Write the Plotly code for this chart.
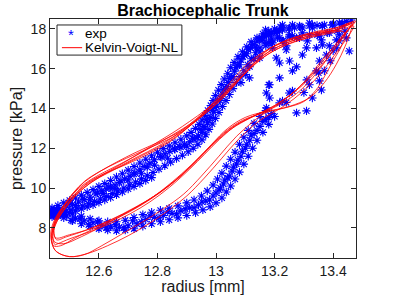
import plotly.graph_objects as go

# ---------------- experimental data (radius [mm], pressure [kPa]) ----------------
# rising band (overlapping rows + outer points)
exp_up_r1 = [12.433,12.45,12.467,12.49,12.51,12.53,12.55,12.57,12.59,12.61,12.625,12.64,12.655,12.67,12.688,
             12.706,12.723,12.74,12.757,12.774,12.79,12.81,12.826,12.842,12.858,12.875,12.892,12.91,12.925,12.94,
             12.952,12.962,12.971,12.982,12.992,13.002,13.012,13.022,13.033,13.043,13.053,13.063,13.074,13.085,13.097,
             13.11,13.125,13.14,13.155,13.172,13.189,13.208,13.227,13.248,13.268,13.29,13.319,13.345,13.37,13.40,
             13.421,13.445,13.462]
exp_up_p1 = [8.78,8.86,8.95,9.06,9.18,9.3,9.42,9.55,9.7,9.85,9.95,10.05,10.15,10.28,10.45,
             10.6,10.76,10.92,11.08,11.25,11.42,11.58,11.72,11.85,11.96,12.08,12.2,12.32,12.46,12.62,
             12.8,13.02,13.28,13.55,13.82,14.12,14.42,14.72,15.02,15.3,15.58,15.88,16.18,16.45,16.7,
             16.95,17.2,17.38,17.55,17.68,17.8,17.88,17.95,18.0,18.05,18.1,18.15,18.18,18.2,18.25,
             18.3,18.38,18.45]
exp_up_r2 = [12.44,12.46,12.48,12.50,12.52,12.54,12.56,12.58,12.60,12.62,12.64,12.66,12.68,12.70,12.72,12.74,
             12.76,12.78,12.80,12.82,12.84,12.86,12.88,12.90,12.915,12.93,12.942,12.952,12.962,12.972,12.982,
             12.99,12.998,13.008,13.018,13.028,13.040,13.050,13.062,13.075,13.09,13.105,13.12,13.14,13.16,
             13.18,13.20,13.22]
exp_up_p2 = [9.0,9.12,9.25,9.38,9.5,9.64,9.78,9.92,10.08,10.22,10.38,10.55,10.72,10.9,11.08,11.26,
             11.45,11.62,11.8,11.98,12.12,12.28,12.45,12.62,12.8,13.0,13.2,13.42,13.65,13.9,14.15,
             14.4,14.65,14.92,15.2,15.48,15.75,16.05,16.32,16.6,16.85,17.1,17.35,17.55,17.75,
             17.9,18.0,18.1]
exp_up_r3 = [12.445,12.465,12.485,12.505,12.525,12.545,12.565,12.585,12.605,12.625,12.645,12.665,12.685,12.705,
             12.725,12.745,12.765,12.785,12.805,12.825,12.845,12.865,12.885,12.905,12.922,12.938,12.952,12.965,
             12.976,12.987,12.998,13.01,13.022,13.034,13.046,13.058,13.07,13.082,13.095,13.108,13.12,13.135,
             13.15,13.17,13.19]
exp_up_p3 = [8.62,8.7,8.8,8.9,9.0,9.1,9.2,9.32,9.45,9.58,9.72,9.86,10.0,10.15,
             10.3,10.46,10.62,10.78,10.95,11.12,11.3,11.48,11.65,11.82,12.0,12.2,12.42,12.68,
             12.95,13.22,13.5,13.8,14.1,14.4,14.7,15.0,15.3,15.6,15.9,16.2,16.5,16.8,
             17.05,17.3,17.5]
exp_up_r4 = [13.085,13.10,13.115,13.13,13.15,13.17,13.19,13.21,13.23,13.25,12.436,12.438,12.445]
exp_up_p4 = [15.3,15.7,16.1,16.5,16.85,17.15,17.35,17.55,17.4,17.6,8.65,8.9,8.8]
exp_up_r5 = [12.455,12.475,12.50,12.52,12.545,12.57,12.595,12.615,12.635,12.655,12.675,12.70,12.72,12.745,12.765,
             12.79,12.815,12.835,12.86,12.88,12.90,12.92,12.935,12.948,12.958,12.968,12.978,12.988,12.997,13.006,
             13.016,13.026,13.037,13.048,13.058,13.068,13.08,13.092,13.105,13.118,13.13,13.148,13.165,13.185,13.205]
exp_up_p5 = [8.95,8.88,9.2,9.12,9.45,9.4,9.75,9.72,10.05,9.98,10.35,10.4,10.7,10.72,11.05,
             11.15,11.55,11.5,11.95,12.05,12.1,12.5,12.55,12.95,13.1,13.45,13.5,13.9,14.05,14.4,
             14.5,14.95,15.1,15.5,15.6,16.05,16.2,16.6,16.75,17.05,17.2,17.5,17.6,17.75,17.8]
exp_up_r6 = [12.44,12.46,12.48,12.50,12.52,12.54,12.56,12.58,12.60,12.62,12.64,12.66,12.68,12.70,12.72,
             12.74,12.76,12.78]
exp_up_p6 = [8.55,8.6,8.68,8.76,8.85,8.95,9.05,9.15,9.28,9.4,9.52,9.66,9.8,9.95,10.08,
             10.22,10.38,10.52]

# scattered points of the unloading part (top right)
exp_sc_r = [13.206,13.227,13.261,13.295,13.329,13.363,13.397,13.431,13.217,13.251,13.285,13.319,13.353,13.387,
            13.421,13.193,13.240,13.309,13.363,13.411,13.251,13.295,13.353,13.377,13.261,13.217,13.319,13.353,
            13.261,13.227,13.329,13.309,13.343,13.445,13.455,13.172,13.217,13.275,13.25,13.31,13.36,13.35,
            13.275,13.217,13.18,13.183,13.183,13.172,13.114,13.44,13.42,13.40,13.39,13.37,13.30,13.24]
exp_sc_p = [17.90,18.05,18.20,18.05,18.20,18.15,18.20,18.30,17.55,17.70,17.55,17.70,17.65,17.80,
            17.70,17.30,17.15,17.05,17.20,17.05,16.39,16.69,16.39,16.69,15.89,15.54,15.19,15.39,
            14.88,14.38,14.53,13.88,15.89,17.55,16.89,14.78,14.28,13.78,14.78,15.44,14.93,15.79,
            16.09,16.29,15.19,15.19,14.53,14.03,15.54,17.9,17.4,16.9,16.4,15.9,14.8,14.3]
exp_sc2_r = [13.157,13.18,13.217,13.227,13.251,13.261,13.285,13.295,13.312,13.329,13.346,13.363,13.38,13.397,
             13.414,13.431,13.138,13.193,13.24,13.343,13.387,13.149,13.206,13.275,13.18,13.319,13.36,13.411,
             13.227,13.169]
exp_sc2_p = [17.40,17.70,17.90,17.40,18.05,17.65,18.15,17.80,17.40,18.05,17.70,18.15,17.80,18.20,
             17.90,18.20,17.05,17.05,16.95,17.05,17.15,16.54,16.54,17.55,17.30,18.30,17.45,17.45,
             18.20,17.95]

# falling band (rows)
exp_dn_r1 = [13.19,13.17,13.15,13.13,13.115,13.10,13.085,13.07,13.055,13.04,13.025,13.01,12.99,12.965,12.94,
             12.91,12.88,12.85,12.82,12.79,12.76,12.73,12.70,12.67,12.64,12.61,12.58,12.55,12.52,12.49,12.46,12.44]
exp_dn_p1 = [13.75,13.45,13.1,12.75,12.4,12.0,11.6,11.2,10.85,10.5,10.2,9.9,9.6,9.35,9.15,
             9.0,8.85,8.72,8.62,8.52,8.42,8.2,8.1,8.03,8.05,8.12,8.25,8.35,8.48,8.6,8.68,8.72]
exp_dn_r2 = [13.17,13.15,13.13,13.11,13.095,13.08,13.065,13.05,13.035,13.02,13.005,12.99,12.97,12.95,12.925,
             12.90,12.87,12.84,12.81,12.78,12.75,12.72,12.69,12.66,12.63,12.60,12.57,12.54,12.51,12.48,12.455]
exp_dn_p2 = [13.9,13.6,13.25,12.9,12.55,12.2,11.8,11.45,11.1,10.75,10.45,10.15,9.85,9.6,9.4,
             9.25,9.1,8.98,8.88,8.78,8.66,8.52,8.38,8.3,8.3,8.35,8.45,8.58,8.7,8.8,8.85]
exp_dn_r3 = [13.20,13.18,13.16,13.14,13.125,13.11,13.095,13.08,13.065,13.05,13.035,13.02,13.0,12.98,12.955,
             12.93,12.90,12.87,12.84,12.81,12.78,12.75,12.72,12.69,12.66,12.63,12.60,12.57,12.54,12.51,12.48,12.455]
exp_dn_p3 = [13.6,13.2,12.8,12.4,12.0,11.6,11.2,10.8,10.45,10.1,9.8,9.5,9.25,9.05,8.9,
             8.75,8.62,8.5,8.4,8.3,8.2,8.08,7.95,7.88,7.85,7.88,7.95,8.08,8.2,8.35,8.5,8.6]
exp_dn_r4 = [13.18,13.16,13.14,13.12,13.105,13.09,13.075,13.06,13.045,13.03,13.015,13.0,12.978,12.952,12.925,
             12.895,12.865,12.835,12.805,12.775,12.745,12.715,12.685,12.655,12.625,12.595,12.565,12.535,12.505,12.475,12.45]
exp_dn_p4 = [13.55,13.35,12.9,12.65,12.2,11.85,11.4,11.05,10.6,10.4,10.0,9.75,9.4,9.3,9.0,
             8.95,8.7,8.8,8.5,8.6,8.3,8.35,8.0,8.15,8.0,8.3,8.15,8.45,8.38,8.7,8.62]

# ---------------- Kelvin-Voigt-NL model loops ----------------
model_r_loops = [
    [12.450,12.443,12.458,12.485,12.515,12.555,12.610,12.670,12.729,12.791,12.849,12.910,12.971,13.029,13.080,13.131,13.183,13.251,13.336,13.421,13.476,
     13.455,13.414,13.360,13.302,13.234,13.149,13.074,13.012,12.961,12.910,12.842,12.774,12.706,12.637,12.569,12.501,12.460,12.450],
    [12.445,12.438,12.452,12.480,12.510,12.550,12.600,12.660,12.720,12.780,12.840,12.900,12.960,13.020,13.070,13.125,13.180,13.250,13.330,13.410,13.460,
     13.440,13.400,13.350,13.290,13.220,13.140,13.070,13.010,12.950,12.890,12.820,12.750,12.680,12.610,12.550,12.500,12.460,12.445],
    [12.455,12.447,12.465,12.495,12.530,12.575,12.630,12.690,12.750,12.810,12.865,12.920,12.975,13.030,13.085,13.140,13.200,13.270,13.340,13.400,13.440,
     13.430,13.400,13.370,13.340,13.300,13.240,13.170,13.100,13.040,12.985,12.930,12.870,12.800,12.720,12.640,12.560,12.490,12.455],
    [12.448,12.440,12.455,12.482,12.518,12.560,12.615,12.680,12.740,12.800,12.855,12.905,12.955,13.005,13.060,13.115,13.175,13.245,13.320,13.400,13.465,
     13.460,13.440,13.410,13.370,13.320,13.250,13.170,13.090,13.025,12.970,12.915,12.850,12.780,12.700,12.620,12.540,12.480,12.448],
    [12.440,12.436,12.450,12.478,12.512,12.552,12.605,12.665,12.725,12.785,12.845,12.900,12.955,13.010,13.065,13.120,13.180,13.250,13.330,13.410,13.470,
     13.450,13.410,13.360,13.300,13.230,13.150,13.080,13.020,12.960,12.900,12.840,12.770,12.700,12.630,12.560,12.500,12.455,12.440],
    [12.452,12.446,12.462,12.490,12.525,12.570,12.625,12.685,12.745,12.805,12.860,12.910,12.962,13.015,13.070,13.125,13.185,13.255,13.335,13.415,13.472,
     13.458,13.425,13.385,13.335,13.275,13.200,13.120,13.050,12.990,12.935,12.875,12.805,12.730,12.650,12.570,12.500,12.452],
    [12.445,12.440,12.456,12.486,12.522,12.566,12.620,12.678,12.736,12.796,12.852,12.905,12.958,13.012,13.066,13.122,13.180,13.250,13.330,13.405,13.462,
     13.445,13.415,13.375,13.330,13.275,13.205,13.125,13.055,12.995,12.940,12.880,12.812,12.740,12.665,12.590,12.520,12.470,12.445],
]
model_p_loops = [
    [7.15,7.70,8.35,9.00,9.60,10.15,10.65,11.15,11.65,12.15,12.65,13.20,13.85,14.60,15.45,16.30,17.00,17.50,17.85,18.10,18.40,
     18.00,17.30,16.40,15.35,14.45,13.75,13.20,12.45,11.70,10.95,10.05,9.30,8.70,8.20,7.80,7.45,7.20,7.15],
    [7.00,7.60,8.30,9.05,9.70,10.30,10.80,11.30,11.75,12.15,12.55,13.05,13.70,14.50,15.30,16.15,16.85,17.35,17.70,17.95,18.20,
     17.70,16.90,16.00,15.10,14.30,13.50,12.60,11.60,10.60,9.70,8.95,8.30,7.70,7.10,6.65,6.55,6.75,7.00],
    [7.40,7.95,8.55,9.15,9.75,10.30,10.75,11.20,11.65,12.10,12.60,13.25,14.00,14.85,15.75,16.55,17.15,17.55,17.80,17.90,17.80,
     17.20,16.40,15.60,14.90,14.35,14.05,13.85,13.55,13.00,12.20,11.35,10.50,9.70,9.00,8.40,7.90,7.55,7.40],
    [7.30,7.85,8.50,9.10,9.70,10.25,10.70,11.10,11.50,11.95,12.45,13.05,13.75,14.55,15.50,16.35,16.95,17.40,17.75,18.00,18.30,
     17.90,17.10,16.20,15.30,14.55,14.10,13.80,13.40,12.75,11.95,11.15,10.30,9.50,8.80,8.15,7.55,7.20,7.30],
    [7.20,7.80,8.45,9.10,9.75,10.35,10.85,11.30,11.70,12.10,12.50,13.00,13.65,14.40,15.25,16.05,16.75,17.25,17.60,17.85,18.15,
     17.60,16.80,15.80,14.90,14.10,13.40,12.50,11.50,10.50,9.60,8.90,8.20,7.60,7.10,6.70,6.55,6.80,7.20],
    [7.50,8.10,8.70,9.30,9.90,10.40,10.85,11.30,11.80,12.35,12.85,13.35,13.90,14.55,15.35,16.15,16.80,17.30,17.65,17.95,18.35,
     18.10,17.55,16.75,15.85,14.95,14.15,13.55,12.95,12.20,11.40,10.55,9.75,9.05,8.45,7.95,7.65,7.50],
    [7.10,7.70,8.40,9.05,9.65,10.20,10.70,11.15,11.60,12.05,12.55,13.15,13.80,14.50,15.35,16.20,16.85,17.35,17.70,17.95,18.25,
     17.85,17.20,16.40,15.55,14.75,14.10,13.60,13.05,12.30,11.45,10.60,9.80,9.10,8.50,8.00,7.50,7.10,7.10],
]

# ---------------- axes / legend text ----------------
x_ticks = [12.6, 12.8, 13.0, 13.2, 13.4]
x_tick_labels = ["12.6", "12.8", "13", "13.2", "13.4"]
y_ticks = [8, 10, 12, 14, 16, 18]
y_tick_labels = ["8", "10", "12", "14", "16", "18"]
legend_labels = ["exp", "Kelvin-Voigt-NL"]

exp_r = (exp_up_r1 + exp_up_r2 + exp_up_r3 + exp_up_r4 + exp_up_r5 + exp_up_r6 + exp_sc_r + exp_sc2_r
         + exp_dn_r1 + exp_dn_r2 + exp_dn_r3 + exp_dn_r4)
exp_p = (exp_up_p1 + exp_up_p2 + exp_up_p3 + exp_up_p4 + exp_up_p5 + exp_up_p6 + exp_sc_p + exp_sc2_p
         + exp_dn_p1 + exp_dn_p2 + exp_dn_p3 + exp_dn_p4)

FONT = "Liberation Sans, Arial, Helvetica, sans-serif"
TXT = "#1a1a1a"
BLUE = "#0000ff"
RED = "#ff0000"

fig = go.Figure()
fig.add_trace(go.Scatter(
    x=exp_r, y=exp_p, mode="markers", name=legend_labels[0], showlegend=False,
    marker=dict(symbol="asterisk-open", size=7, color=BLUE, line=dict(width=1.1, color=BLUE)),
))
for i, (rr, pp) in enumerate(zip(model_r_loops, model_p_loops)):
    fig.add_trace(go.Scatter(
        x=rr, y=pp, mode="lines", name=legend_labels[1], showlegend=False,
        line=dict(color=RED, width=0.8, shape="spline", smoothing=1.0),
    ))

axis_common = dict(
    showline=True, linecolor="#262626", linewidth=1, mirror="ticks",
    ticks="inside", ticklen=5, tickcolor="#262626", showgrid=False, zeroline=False,
    automargin=False,
    tickfont=dict(family=FONT, size=14, color=TXT),
)
fig.update_xaxes(range=[12.433, 13.478], tickvals=x_ticks, ticktext=x_tick_labels,
                 title=dict(text="radius [mm]", standoff=0, font=dict(family=FONT, size=16, color=TXT)),
                 **axis_common)
fig.update_yaxes(range=[6.48, 18.5], tickvals=y_ticks, ticktext=y_tick_labels,
                 title=dict(text="pressure [kPa]", standoff=4, font=dict(family=FONT, size=16, color=TXT)),
                 **axis_common)

# legend box drawn in MATLAB style (compact rows)
fig.add_shape(type="rect", xref="paper", yref="paper", x0=0.0229, x1=0.431, y0=0.849, y1=0.975,
              line=dict(color="#262626", width=1), fillcolor="white", layer="above")
fig.add_shape(type="line", xref="paper", yref="paper", x0=0.039, x1=0.105, y0=0.880, y1=0.880,
              line=dict(color=RED, width=1), layer="above")
fig.add_annotation(xref="paper", yref="paper", x=0.0686, y=0.935, text="*", showarrow=False,
                   font=dict(family=FONT, size=15, color=BLUE), xanchor="center", yanchor="middle")
fig.add_annotation(xref="paper", yref="paper", x=0.108, y=0.941, text=legend_labels[0], showarrow=False,
                   font=dict(family=FONT, size=13.5, color="black"), xanchor="left", yanchor="middle")
fig.add_annotation(xref="paper", yref="paper", x=0.108, y=0.879, text=legend_labels[1], showarrow=False,
                   font=dict(family=FONT, size=13.5, color="black"), xanchor="left", yanchor="middle")

fig.update_layout(
    template="none",
    width=415, height=295,
    margin=dict(l=50, r=59, t=19, b=37, autoexpand=False),
    paper_bgcolor="white", plot_bgcolor="white",
    title=dict(text="<b>Brachiocephalic Trunk</b>", x=0.489, xref="container", xanchor="center",
               y=0.966, yref="container", yanchor="middle",
               font=dict(family=FONT, size=16, color="black")),
    showlegend=False,
)

fig.write_html("out.html", config={"displayModeBar": False},
               post_script="document.body.style.margin='0';document.body.style.overflow='hidden';")
